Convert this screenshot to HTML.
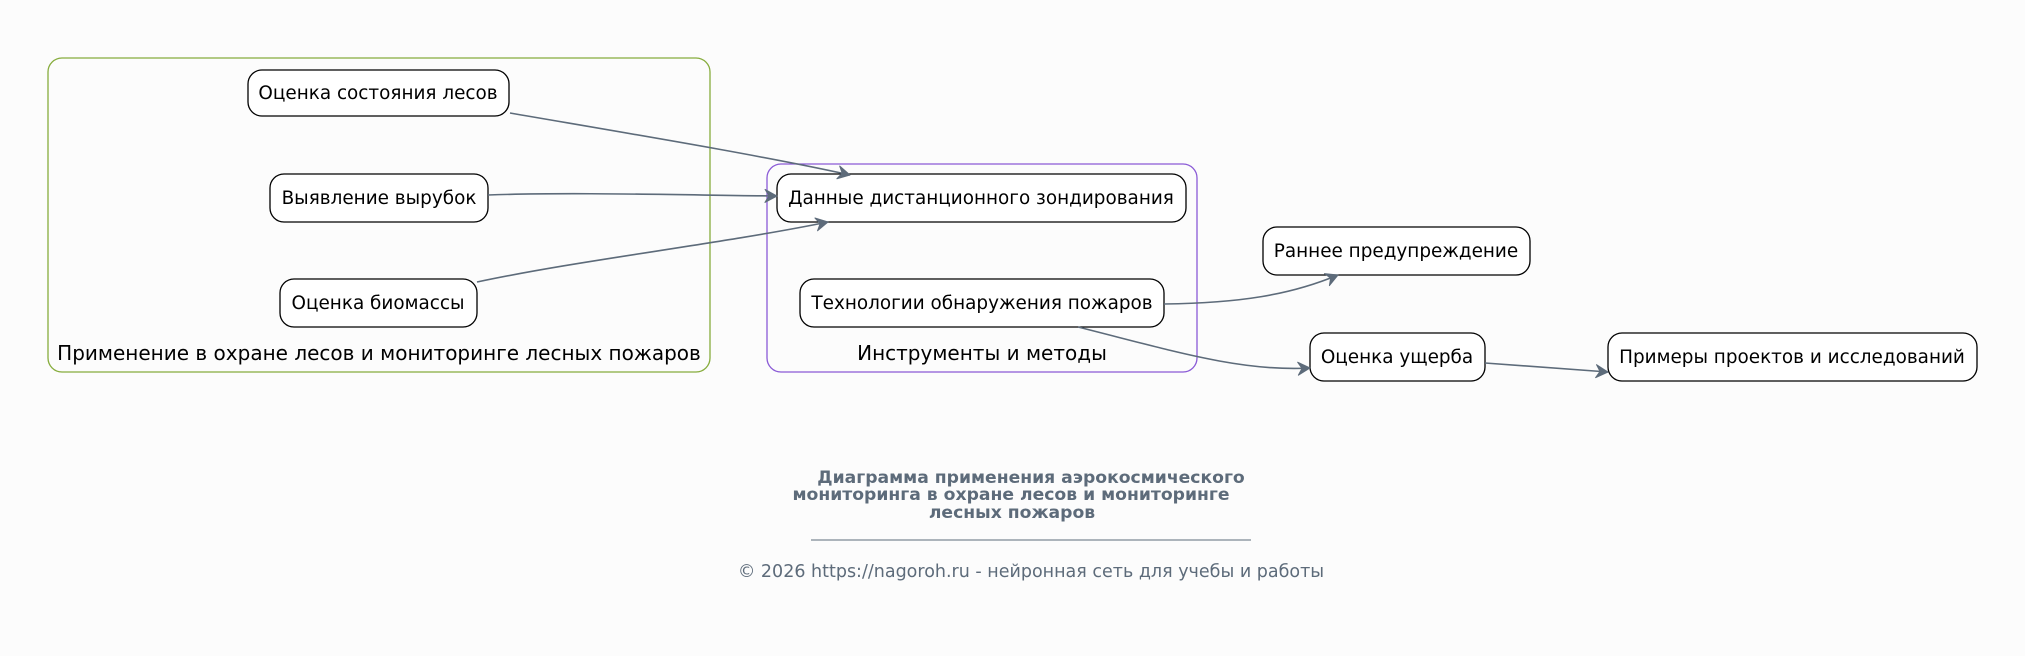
<!DOCTYPE html>
<html><head><meta charset="utf-8"><style>
body{margin:0;background:#fcfcfc;}
svg{display:block}
text{font-family:"DejaVu Sans","Liberation Sans",sans-serif;}
</style></head><body>
<svg width="2025" height="656" viewBox="0 0 2025 656" xmlns="http://www.w3.org/2000/svg">
<defs>
<marker id="a" markerWidth="16" markerHeight="16" refX="13" refY="8" orient="auto" markerUnits="userSpaceOnUse">
<path d="M1,1.5 L13,8 L1,14.5 L5,8 Z" fill="#5d6b7a" stroke="#5d6b7a" stroke-width="1" stroke-linejoin="round"/>
</marker>
</defs>
<rect width="2025" height="656" fill="#fcfcfc"/>
<rect x="48" y="58" width="662" height="314" rx="14" fill="none" stroke="#86ac3c" stroke-width="1.3"/>
<text x="379" y="360" font-size="20" text-anchor="middle" fill="#000">Применение в охране лесов и мониторинге лесных пожаров</text>
<rect x="767" y="164" width="430" height="208" rx="14" fill="none" stroke="#8a5ad6" stroke-width="1.3"/>
<text x="982" y="360" font-size="20" text-anchor="middle" fill="#000">Инструменты и методы</text>
<g fill="#fff" stroke="#000" stroke-width="1.3">
<rect x="248" y="70" width="261" height="46" rx="14"/>
<rect x="270" y="174" width="218" height="48" rx="14"/>
<rect x="280" y="279" width="197" height="48" rx="14"/>
<rect x="777" y="174" width="409" height="48" rx="14"/>
<rect x="800" y="279" width="364" height="48" rx="14"/>
<rect x="1263" y="227" width="267" height="48" rx="14"/>
<rect x="1310" y="333" width="175" height="48" rx="14"/>
<rect x="1608" y="333" width="369" height="48" rx="14"/>
</g>
<g font-size="18.4" text-anchor="middle" fill="#000">
<text x="378" y="99">Оценка состояния лесов</text>
<text x="379" y="204">Выявление вырубок</text>
<text x="378" y="309">Оценка биомассы</text>
<text x="981" y="204">Данные дистанционного зондирования</text>
<text x="982" y="309">Технологии обнаружения пожаров</text>
<text x="1396" y="257">Раннее предупреждение</text>
<text x="1397" y="363">Оценка ущерба</text>
<text x="1792" y="363">Примеры проектов и исследований</text>
</g>
<g fill="none" stroke="#5d6b7a" stroke-width="1.6" marker-end="url(#a)">
<path d="M510,113 C620,132 760,155 850,175"/>
<path d="M488,195 C570,192 680,195 777,196"/>
<path d="M477,282 C580,260 720,244 828,222"/>
<path d="M1164,304 C1240,303 1290,295 1338,275"/>
<path d="M1078,327 C1170,350 1240,372 1310,368"/>
<path d="M1485,363 L1608,372"/>
</g>
<g font-size="17.2" font-weight="bold" fill="#5d6b7a" text-anchor="middle">
<text x="1031" y="483">Диаграмма применения аэрокосмического</text>
<text x="1011" y="500">мониторинга в охране лесов и мониторинге</text>
<text x="1012" y="518">лесных пожаров</text>
</g>
<line x1="811" y1="540" x2="1251" y2="540" stroke="#5d6b7a" stroke-width="1"/>
<text x="1031" y="577" font-size="17.5" text-anchor="middle" fill="#5d6b7a">© 2026 https://nagoroh.ru - нейронная сеть для учебы и работы</text>
</svg>
</body></html>
